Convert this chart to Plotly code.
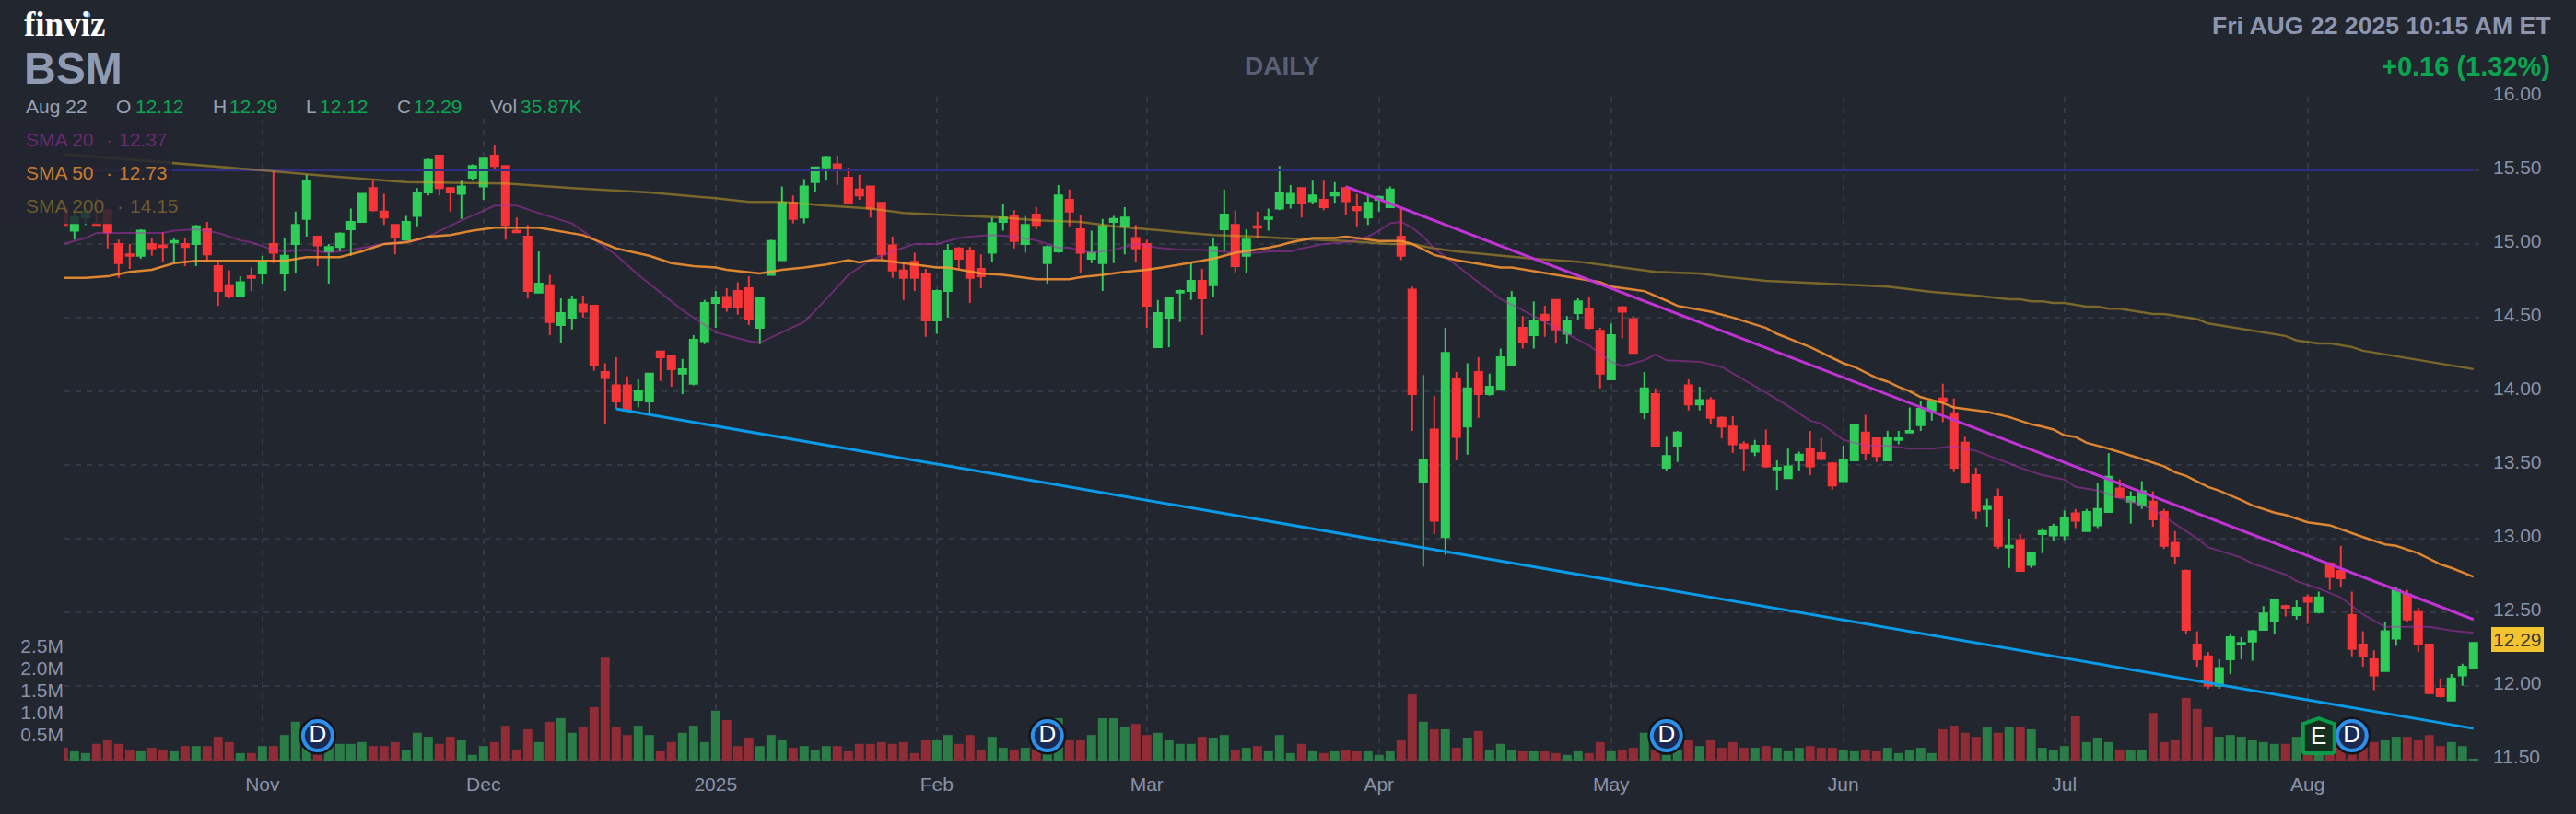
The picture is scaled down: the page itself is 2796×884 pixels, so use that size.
import plotly.graph_objects as go

# daily bars, oldest first
OPEN = [
    15.24, 15.09, 15.18, 15.14, 15.23, 15.00, 14.93, 14.92, 15.00, 14.99,
    15.01, 15.00, 15.00, 15.10, 14.85, 14.72, 14.65, 14.78, 14.80, 15.00,
    14.80, 15.00, 15.17, 15.05, 14.95, 14.98, 15.10, 15.15, 15.38, 15.22,
    15.13, 15.03, 15.19, 15.35, 15.60, 15.38, 15.34, 15.45, 15.39, 15.60,
    15.53, 15.09, 15.05, 14.67, 14.72, 14.45, 14.50, 14.59, 14.58, 14.13,
    14.04, 14.04, 13.94, 13.93, 14.27, 14.24, 14.12, 14.05, 14.34, 14.60,
    14.64, 14.68, 14.70, 14.43, 14.79, 14.89, 15.28, 15.18, 15.42, 15.52,
    15.54, 15.45, 15.37, 15.39, 15.28, 14.99, 14.82, 14.88, 14.80, 14.48,
    14.68, 14.97, 14.95, 14.83, 14.94, 15.15, 15.19, 15.00, 15.20, 14.87,
    14.95, 15.30, 15.10, 14.90, 14.87, 15.15, 15.12, 15.04, 15.00, 14.30,
    14.50, 14.67, 14.68, 14.75, 14.72, 15.10, 15.13, 14.92, 15.12, 15.17,
    15.24, 15.28, 15.38, 15.29, 15.30, 15.33, 15.38, 15.25, 15.18, 15.30,
    15.25, 15.05, 14.69, 13.38, 13.74, 13.01, 14.08, 13.76, 14.13, 13.98,
    14.01, 14.18, 14.43, 14.38, 14.52, 14.62, 14.39, 14.53, 14.56, 14.41,
    14.08, 14.57, 14.49, 13.86, 13.98, 13.48, 13.63, 14.04, 13.91, 13.94,
    13.82, 13.76, 13.64, 13.59, 13.63, 13.47, 13.41, 13.53, 13.61, 13.58,
    13.51, 13.39, 13.53, 13.72, 13.68, 13.53, 13.67, 13.72, 13.77, 13.87,
    13.95, 13.85, 13.65, 13.43, 13.20, 13.28, 12.94, 12.99, 12.82, 13.03,
    13.02, 13.02, 13.17, 13.05, 13.09, 13.18, 13.34, 13.25, 13.23, 13.25,
    13.18, 12.97, 12.78, 12.28, 12.20, 12.00, 12.18, 12.28, 12.30, 12.38,
    12.44, 12.54, 12.48, 12.60, 12.50, 12.83, 12.78, 12.48, 12.28, 12.18,
    12.10, 12.32, 12.62, 12.50, 12.28, 11.98, 11.90, 12.07, 12.12,
]
HIGH = [
    15.24, 15.22, 15.24, 15.31, 15.23, 15.03, 15.00, 15.10, 15.04, 15.08,
    15.04, 15.04, 15.13, 15.15, 14.88, 14.82, 14.78, 14.84, 14.92, 15.50,
    15.04, 15.22, 15.47, 15.05, 15.00, 15.08, 15.24, 15.34, 15.43, 15.34,
    15.13, 15.19, 15.38, 15.58, 15.60, 15.38, 15.43, 15.54, 15.58, 15.67,
    15.53, 15.18, 15.13, 14.95, 14.79, 14.63, 14.65, 14.65, 14.58, 14.19,
    14.23, 14.10, 14.08, 14.12, 14.27, 14.24, 14.22, 14.38, 14.62, 14.68,
    14.70, 14.74, 14.78, 14.63, 15.03, 15.39, 15.33, 15.44, 15.52, 15.60,
    15.60, 15.52, 15.47, 15.39, 15.28, 15.05, 14.87, 14.94, 14.83, 14.69,
    15.00, 14.98, 14.98, 14.93, 15.18, 15.27, 15.23, 15.19, 15.25, 14.99,
    15.40, 15.37, 15.20, 15.09, 15.17, 15.19, 15.25, 15.13, 15.03, 14.62,
    14.64, 14.69, 14.88, 14.83, 15.04, 15.37, 15.23, 15.10, 15.22, 15.24,
    15.53, 15.40, 15.38, 15.43, 15.43, 15.42, 15.39, 15.34, 15.33, 15.33,
    15.39, 15.24, 14.71, 14.11, 13.97, 14.43, 14.13, 14.19, 14.23, 14.12,
    14.29, 14.68, 14.51, 14.61, 14.58, 14.62, 14.51, 14.63, 14.64, 14.43,
    14.46, 14.58, 14.51, 14.13, 14.02, 13.69, 13.73, 14.08, 14.03, 13.96,
    13.83, 13.83, 13.66, 13.67, 13.74, 13.53, 13.61, 13.59, 13.73, 13.68,
    13.52, 13.63, 13.77, 13.84, 13.68, 13.73, 13.73, 13.89, 13.93, 13.93,
    14.05, 13.95, 13.69, 13.48, 13.27, 13.34, 13.13, 13.03, 12.90, 13.07,
    13.10, 13.19, 13.20, 13.20, 13.38, 13.58, 13.40, 13.32, 13.39, 13.32,
    13.20, 13.05, 12.79, 12.37, 12.23, 12.18, 12.35, 12.33, 12.38, 12.54,
    12.58, 12.55, 12.58, 12.62, 12.64, 12.84, 12.95, 12.64, 12.37, 12.24,
    12.43, 12.67, 12.65, 12.53, 12.28, 12.05, 12.08, 12.15, 12.29,
]
LOW = [
    15.13, 15.03, 15.13, 15.13, 14.97, 14.77, 14.83, 14.90, 14.92, 14.88,
    14.88, 14.85, 14.85, 14.88, 14.58, 14.63, 14.64, 14.68, 14.73, 14.87,
    14.68, 14.80, 15.05, 14.85, 14.73, 14.95, 14.92, 15.15, 15.22, 15.13,
    14.93, 15.02, 15.12, 15.33, 15.33, 15.22, 15.17, 15.43, 15.30, 15.50,
    15.03, 15.08, 14.63, 14.67, 14.38, 14.33, 14.42, 14.50, 14.14, 13.78,
    13.88, 13.87, 13.89, 13.85, 14.07, 14.03, 13.98, 14.04, 14.32, 14.43,
    14.54, 14.52, 14.45, 14.32, 14.79, 14.89, 15.14, 15.14, 15.35, 15.43,
    15.40, 15.27, 15.30, 15.18, 14.90, 14.77, 14.62, 14.68, 14.37, 14.39,
    14.50, 14.83, 14.60, 14.70, 14.88, 15.09, 14.97, 14.94, 15.10, 14.73,
    14.94, 15.12, 14.80, 14.87, 14.68, 14.87, 14.93, 14.88, 14.43, 14.30,
    14.30, 14.47, 14.62, 14.38, 14.64, 14.95, 14.80, 14.80, 15.04, 15.09,
    15.23, 15.24, 15.18, 15.27, 15.23, 15.28, 15.20, 15.12, 15.13, 15.22,
    15.25, 14.89, 13.73, 12.81, 13.03, 12.89, 13.53, 13.57, 13.82, 13.97,
    14.01, 14.18, 14.29, 14.29, 14.37, 14.33, 14.32, 14.48, 14.42, 14.02,
    14.08, 14.36, 14.26, 13.81, 13.63, 13.46, 13.52, 13.87, 13.87, 13.78,
    13.68, 13.58, 13.46, 13.56, 13.48, 13.33, 13.41, 13.46, 13.43, 13.53,
    13.33, 13.39, 13.53, 13.53, 13.52, 13.53, 13.64, 13.72, 13.73, 13.80,
    13.79, 13.45, 13.37, 13.13, 13.08, 12.93, 12.80, 12.78, 12.80, 12.90,
    12.98, 12.99, 13.07, 13.05, 13.07, 13.18, 13.27, 13.10, 13.20, 13.08,
    12.93, 12.83, 12.35, 12.13, 11.98, 11.98, 12.08, 12.18, 12.17, 12.38,
    12.35, 12.47, 12.45, 12.42, 12.49, 12.65, 12.67, 12.20, 12.13, 11.97,
    12.10, 12.27, 12.43, 12.23, 11.94, 11.92, 11.90, 12.00, 12.12,
]
CLOSE = [
    15.13, 15.18, 15.22, 15.13, 15.08, 14.87, 14.92, 15.09, 14.97, 14.98,
    15.02, 14.98, 15.12, 14.93, 14.68, 14.65, 14.74, 14.77, 14.88, 14.94,
    14.92, 15.13, 15.43, 14.99, 14.98, 15.07, 15.15, 15.34, 15.23, 15.18,
    15.05, 15.15, 15.35, 15.57, 15.38, 15.35, 15.39, 15.53, 15.58, 15.53,
    15.13, 15.08, 14.68, 14.73, 14.47, 14.53, 14.62, 14.54, 14.18, 14.09,
    13.93, 13.87, 14.00, 14.12, 14.23, 14.15, 14.15, 14.35, 14.60, 14.63,
    14.57, 14.57, 14.49, 14.63, 15.02, 15.28, 15.17, 15.39, 15.52, 15.59,
    15.50, 15.28, 15.33, 15.24, 14.93, 14.82, 14.77, 14.77, 14.48, 14.68,
    14.95, 14.90, 14.77, 14.78, 15.14, 15.18, 15.02, 15.13, 15.13, 14.98,
    15.33, 15.22, 14.94, 14.94, 15.12, 15.17, 15.18, 14.97, 14.58, 14.53,
    14.63, 14.68, 14.75, 14.63, 14.98, 15.20, 14.85, 15.03, 15.11, 15.18,
    15.35, 15.34, 15.28, 15.33, 15.25, 15.35, 15.29, 15.23, 15.28, 15.32,
    15.37, 14.92, 13.98, 13.53, 13.12, 14.26, 13.69, 14.02, 13.98, 14.03,
    14.23, 14.63, 14.33, 14.48, 14.48, 14.42, 14.48, 14.61, 14.43, 14.12,
    14.38, 14.54, 14.26, 14.02, 13.63, 13.56, 13.72, 13.91, 13.94, 13.82,
    13.76, 13.64, 13.61, 13.63, 13.49, 13.48, 13.49, 13.57, 13.49, 13.54,
    13.36, 13.53, 13.77, 13.58, 13.56, 13.68, 13.68, 13.73, 13.88, 13.93,
    13.93, 13.48, 13.38, 13.19, 13.22, 12.95, 12.95, 12.78, 12.90, 13.05,
    13.08, 13.14, 13.12, 13.18, 13.20, 13.42, 13.28, 13.28, 13.32, 13.13,
    12.95, 12.88, 12.38, 12.18, 12.00, 12.12, 12.33, 12.29, 12.37, 12.49,
    12.58, 12.53, 12.53, 12.57, 12.60, 12.74, 12.73, 12.25, 12.20, 12.07,
    12.37, 12.65, 12.45, 12.28, 11.95, 11.93, 12.05, 12.13, 12.29,
]
# volume in millions of shares
VOLUME = [
    0.29, 0.21, 0.17, 0.38, 0.46, 0.38, 0.25, 0.21, 0.29, 0.25,
    0.21, 0.33, 0.33, 0.33, 0.54, 0.42, 0.17, 0.17, 0.33, 0.33,
    0.58, 0.88, 0.29, 0.14, 0.38, 0.38, 0.38, 0.42, 0.33, 0.33,
    0.42, 0.25, 0.63, 0.54, 0.38, 0.54, 0.46, 0.13, 0.33, 0.42,
    0.79, 0.25, 0.71, 0.42, 0.88, 0.96, 0.63, 0.75, 1.21, 2.33,
    0.75, 0.58, 0.79, 0.58, 0.21, 0.42, 0.63, 0.79, 0.42, 1.13,
    0.92, 0.33, 0.50, 0.33, 0.58, 0.46, 0.29, 0.33, 0.25, 0.33,
    0.33, 0.21, 0.38, 0.38, 0.42, 0.38, 0.42, 0.17, 0.46, 0.46,
    0.58, 0.38, 0.58, 0.25, 0.54, 0.29, 0.25, 0.29, 0.25, 0.20,
    0.96, 0.46, 0.46, 0.58, 0.96, 0.96, 0.75, 0.83, 0.58, 0.63,
    0.46, 0.38, 0.38, 0.54, 0.50, 0.58, 0.25, 0.29, 0.33, 0.21,
    0.58, 0.17, 0.38, 0.21, 0.17, 0.21, 0.25, 0.21, 0.21, 0.13,
    0.21, 0.46, 1.50, 0.88, 0.71, 0.71, 0.29, 0.50, 0.67, 0.25,
    0.38, 0.25, 0.21, 0.21, 0.21, 0.17, 0.13, 0.21, 0.17, 0.42,
    0.21, 0.25, 0.29, 0.63, 0.25, 0.13, 0.25, 0.46, 0.33, 0.46,
    0.29, 0.42, 0.29, 0.29, 0.33, 0.29, 0.21, 0.29, 0.33, 0.29,
    0.29, 0.25, 0.21, 0.25, 0.21, 0.29, 0.17, 0.25, 0.29, 0.17,
    0.71, 0.79, 0.63, 0.54, 0.75, 0.63, 0.75, 0.75, 0.71, 0.29,
    0.25, 0.33, 1.00, 0.42, 0.50, 0.42, 0.25, 0.25, 0.25, 1.08,
    0.42, 0.46, 1.42, 1.17, 0.75, 0.54, 0.58, 0.54, 0.46, 0.42,
    0.38, 0.38, 0.54, 0.38, 0.38, 0.38, 0.38, 0.29, 0.38, 0.42,
    0.46, 0.54, 0.54, 0.46, 0.58, 0.33, 0.42, 0.33, 0.036,
]

SMA20_X = [0, 2, 3, 9, 10, 12, 14, 16, 17, 19, 20, 22, 24, 26, 29, 32, 33, 36, 38, 39, 41, 43, 46, 48, 50, 52,
           56, 59, 62, 63, 65, 67, 69, 71, 73, 75, 77, 79, 81, 82, 84, 86, 88, 90, 91, 93, 95, 97, 99, 101, 103,
           106, 108, 109, 111, 112, 114, 116, 118, 119, 120, 121, 122, 123, 124, 126, 128, 130, 132, 135, 138,
           140, 141, 143, 144, 145, 148, 150, 152, 154, 156, 158, 159, 161, 163, 165, 167, 169, 171, 173, 176,
           177, 179, 181, 182, 184, 186, 189, 191, 193, 194, 197, 198, 201, 202, 204, 206, 208, 210, 213, 214,
           216, 218]
SMA20 = [15.00, 15.04, 15.075, 15.075, 15.09, 15.10, 15.075, 15.025, 15.01, 14.96, 14.95, 14.96, 14.94, 14.96,
         15.00, 15.025, 15.05, 15.16, 15.225, 15.26, 15.26, 15.21, 15.14, 15.03, 14.925, 14.79,
         14.55, 14.40, 14.34, 14.33, 14.40, 14.47, 14.625, 14.79, 14.89, 14.95, 15.00, 15.00, 15.04, 15.05, 15.06,
         15.05, 15.025, 14.975, 14.975, 14.94, 14.96, 15.00, 14.975, 14.96, 14.96,
         14.94, 14.94, 14.95, 14.95, 14.97, 15.00, 15.01, 15.05, 15.09, 15.14, 15.15, 15.11, 15.05, 14.97, 14.855,
         14.74, 14.625, 14.55, 14.43, 14.31,
         14.20, 14.17, 14.21, 14.25, 14.21, 14.20, 14.165, 14.08, 13.99, 13.90, 13.80, 13.78, 13.67, 13.63, 13.63,
         13.61, 13.61, 13.625, 13.595, 13.51,
         13.48, 13.43, 13.40, 13.35, 13.325, 13.275, 13.20, 13.10, 13.00, 12.94, 12.87, 12.83, 12.755, 12.71, 12.66,
         12.60, 12.485, 12.40, 12.40, 12.40,
         12.375, 12.36]

SMA50_X = [0, 2, 4, 6, 8, 10, 12, 18, 20, 22, 25, 27, 29, 31, 33, 35, 37, 39, 43, 47, 50, 53, 55, 57, 59, 60, 63,
           65, 67, 69, 71, 72, 73, 74, 76, 79, 80, 83, 85, 88, 91, 92, 94, 96, 98, 101, 104, 106, 109, 110, 111,
           113, 115, 116, 117, 119, 121, 122, 124, 126, 130, 131, 135, 139, 140, 143, 145, 146, 149, 151, 154,
           155, 157, 158, 161, 162, 164, 165, 166, 167, 168, 170, 171, 173, 174, 176, 178, 179, 180, 181, 182,
           183, 185, 188, 190, 191, 192, 194, 195, 197, 198, 200, 201, 203, 205, 208, 210, 211, 213, 215, 216,
           218]
SMA50 = [14.77, 14.77, 14.78, 14.81, 14.825, 14.87, 14.885, 14.885, 14.885, 14.91, 14.91, 14.95, 15.00, 15.01,
         15.05, 15.06, 15.09, 15.11, 15.11, 15.06, 14.97, 14.92, 14.87, 14.85, 14.84, 14.825, 14.80,
         14.825, 14.84, 14.86, 14.89, 14.875, 14.89, 14.89, 14.87, 14.84, 14.84, 14.80, 14.79, 14.76, 14.76, 14.775,
         14.79, 14.81, 14.825, 14.86, 14.90, 14.94, 14.975, 14.99, 15.01,
         15.04, 15.04, 15.05, 15.04, 15.02, 15.02, 15.00, 14.925, 14.89, 14.84, 14.84, 14.79, 14.74, 14.71, 14.68,
         14.615, 14.58, 14.54, 14.50, 14.43,
         14.39, 14.33, 14.30, 14.19, 14.165, 14.09, 14.065, 14.03, 14.00, 13.96, 13.92, 13.89, 13.87, 13.86, 13.825,
         13.775, 13.76, 13.74, 13.70, 13.69,
         13.65, 13.61, 13.54, 13.49, 13.45, 13.425, 13.35, 13.325, 13.26, 13.225, 13.175, 13.16, 13.11, 13.09, 13.01,
         12.96, 12.95, 12.90, 12.825, 12.80,
         12.74]

SMA200_X = [0, 10, 18, 24, 31, 40, 42, 46, 53, 59, 62, 65, 69, 73, 76, 79, 82, 85, 88, 92, 95, 98, 101, 104, 108,
            110, 116, 120, 122, 124, 126, 129, 133, 137, 140, 144, 148, 150, 154, 157, 161, 165, 169, 173, 176,
            177, 178, 179, 180, 181, 183, 184, 185, 186, 189, 190, 193, 194, 201, 202, 204, 205, 207, 208, 218]
SMA200 = [15.61, 15.55, 15.50, 15.46, 15.42, 15.41, 15.40, 15.38, 15.35, 15.31, 15.285, 15.285, 15.26, 15.24, 15.21,
          15.20, 15.19, 15.18, 15.16, 15.15, 15.12, 15.10, 15.08, 15.06, 15.05,
          15.04, 15.02, 15.00, 15.00, 14.97, 14.95, 14.93, 14.90, 14.88, 14.85, 14.81, 14.80, 14.78, 14.75, 14.74,
          14.725, 14.71, 14.675, 14.65, 14.625,
          14.625, 14.61, 14.61, 14.60, 14.60, 14.575, 14.575, 14.56, 14.56, 14.525, 14.525, 14.49, 14.46, 14.375,
          14.345, 14.325, 14.325, 14.30, 14.275, 14.15]

# drawn trendlines and the horizontal level
UPPER_X = [116, 218]
UPPER_Y = [15.39, 12.45]
LOWER_X = [50, 218]
LOWER_Y = [13.88, 11.71]
LEVEL_X = [0, 218]
LEVEL_Y = [15.50, 15.50]

MONTH_POS = [18, 38, 59, 79, 98, 119, 140, 161, 181, 203]
MONTH_LABELS = ["Nov", "Dec", "2025", "Feb", "Mar", "Apr", "May", "Jun", "Jul", "Aug"]
PRICE_TICKS = [11.5, 12, 12.5, 13, 13.5, 14, 14.5, 15, 15.5, 16]
VOL_TICKS = [0.5, 1.0, 1.5, 2.0, 2.5]
VOL_LABELS = ["0.5M", "1.0M", "1.5M", "2.0M", "2.5M"]

DIVIDEND_X = [23, 89, 145, 207]
EARNINGS_X = [204]
BADGE_Y = 11.66

BG = "#22262f"
GRID = "#333844"
TICK = "#8a92a8"
FONT = "Liberation Sans"
GREEN = "#2fcc5a"
RED = "#f63538"
UP_TXT = "#0ba551"

# plot box in page pixels
L, R, T, B = 70, 2691, 104.7, 826
W, H = R - L, B - T


def px(x):
    return (x - L) / W


def py(y):
    return 1 - (y - T) / H


fig = go.Figure()

vol_colors = ["#2b7d47" if c >= o else "#8f2c35" for o, c in zip(OPEN, CLOSE)]
xs = list(range(len(OPEN)))

fig.add_trace(go.Bar(x=xs, y=VOLUME, marker_color=vol_colors, marker_line_width=0, yaxis="y", hoverinfo="skip"))
fig.add_trace(go.Candlestick(
    x=xs, open=OPEN, high=HIGH, low=LOW, close=CLOSE, yaxis="y2", whiskerwidth=0,
    increasing=dict(fillcolor=GREEN, line=dict(color=GREEN, width=2)),
    decreasing=dict(fillcolor=RED, line=dict(color=RED, width=2)),
))
fig.add_trace(go.Scatter(x=LEVEL_X, y=LEVEL_Y, mode="lines", yaxis="y2", line=dict(color="#2e2e85", width=2)))
fig.add_trace(go.Scatter(x=SMA200_X, y=SMA200, mode="lines", yaxis="y2", line=dict(color="rgba(210,170,40,0.5)", width=2.5)))
fig.add_trace(go.Scatter(x=SMA20_X, y=SMA20, mode="lines", yaxis="y2", line=dict(color="rgba(180,50,180,0.5)", width=2)))
fig.add_trace(go.Scatter(x=SMA50_X, y=SMA50, mode="lines", yaxis="y2", line=dict(color="rgba(255,150,50,0.85)", width=2.5)))
fig.add_trace(go.Scatter(x=UPPER_X, y=UPPER_Y, mode="lines", yaxis="y2", line=dict(color="#c233d6", width=3)))
fig.add_trace(go.Scatter(x=LOWER_X, y=LOWER_Y, mode="lines", yaxis="y2", line=dict(color="#0a9be8", width=3)))

# dividend markers
fig.add_trace(go.Scatter(
    x=DIVIDEND_X, y=[BADGE_Y] * len(DIVIDEND_X), mode="markers", yaxis="y2",
    marker=dict(size=41, color="#12141a"),
))
fig.add_trace(go.Scatter(
    x=DIVIDEND_X, y=[BADGE_Y] * len(DIVIDEND_X), mode="markers+text", yaxis="y2",
    marker=dict(size=32, color="#1b2a52", line=dict(color="#2c8fe8", width=4)),
    text=["D"] * len(DIVIDEND_X), textposition="middle center",
    textfont=dict(family=FONT, size=26, color="#ffffff"),
))

annotations = []


def label(x, y, text, color, size, bold=False, anchor="left", family=FONT):
    if bold:
        text = f"<b>{text}</b>"
    annotations.append(dict(
        x=px(x), y=py(y), xref="paper", yref="paper", text=text, showarrow=False,
        xanchor=anchor, yanchor="middle", font=dict(family=family, size=size, color=color),
    ))


label(24, 26, "finviz", "#ffffff", 37, bold=True, family="Liberation Serif")
label(24, 74, "BSM", "#8f9bb3", 48, bold=True)
label(1392, 71, "DAILY", "#596075", 28, bold=True, anchor="center")
label(2771, 28, "Fri AUG 22 2025 10:15 AM ET", "#8d95ae", 26.6, bold=True, anchor="right")
label(2770, 72, "+0.16 (1.32%)", UP_TXT, 29, bold=True, anchor="right")

label(26, 115.5, "Aug 22", "#9aa1b2", 21)
for x_name, name, x_val, val in [
    (124, "O", 145, "12.12"), (228.5, "H", 247, "12.29"), (330, "L", 345, "12.12"),
    (428.5, "C", 447, "12.29"), (530, "Vol", 562.5, "35.87K"),
]:
    label(x_name, 115.5, name, "#9aa1b2", 21)
    label(x_val, 115.5, val, UP_TXT, 21)

for y, name, dot_x, val_x, val, color in [
    (151, "SMA 20", 113, 127, "12.37", "#6a2a6e"),
    (187, "SMA 50", 113, 127, "12.73", "#c97a32"),
    (223, "SMA 200", 125, 139, "14.15", "#6b5a2e"),
]:
    label(26, y, name, color, 21)
    label(dot_x, y, "·", color, 21)
    label(val_x, y, val, color, 21)

# last price tag
annotations.append(dict(
    x=px(2732), y=12.29, xref="paper", yref="y2", yshift=4, text="12.29", showarrow=False,
    xanchor="center", yanchor="middle", bgcolor="#f4c430", borderpad=1, borderwidth=1, bordercolor="#f4c430",
    font=dict(family=FONT, size=21, color="#3a3a3a"),
))
annotations.append(dict(
    x=EARNINGS_X[0], y=BADGE_Y, xref="x", yref="y2", text="E", showarrow=False,
    font=dict(family=FONT, size=26, color="#ffffff"),
))

shapes = [
    # header row and legend backdrops
    dict(type="rect", xref="paper", yref="paper", x0=px(0), x1=px(638), y0=py(128), y1=py(100),
         fillcolor=BG, line_width=0, layer="above"),
    dict(type="rect", xref="paper", yref="paper", x0=px(0), x1=px(187), y0=py(243), y1=py(128),
         fillcolor=BG, opacity=0.85, line_width=0, layer="above"),
    # blue dot of the logo
    dict(type="circle", xref="paper", yref="paper", x0=px(91), x1=px(98.2), y0=py(19.3), y1=py(12.1),
         fillcolor="#4aa3f0", line_width=0, layer="above"),
    # earnings badge
    dict(type="path", xref="x", yref="y2", xsizemode="pixel", ysizemode="pixel",
         xanchor=EARNINGS_X[0], yanchor=BADGE_Y,
         path="M -17,13 L 0,19 L 17,13 L 17,-16 Q 17,-19 14,-19 L -14,-19 Q -17,-19 -17,-16 Z",
         fillcolor="#15301f", line=dict(color="#0a9a4a", width=4), layer="above"),
]

fig.update_layout(
    width=2796, height=884,
    margin=dict(l=L, r=2796 - R, t=T, b=884 - B),
    paper_bgcolor=BG, plot_bgcolor=BG,
    showlegend=False, bargap=0.17, boxgap=0.33, boxgroupgap=0,
    annotations=annotations, shapes=shapes,
    xaxis=dict(
        range=[0.1, 218.52], rangeslider_visible=False, tickvals=MONTH_POS, ticktext=MONTH_LABELS,
        showgrid=True, gridcolor=GRID, gridwidth=2, griddash="6px,6px", zeroline=False, showline=False,
        ticks="", tickfont=dict(family=FONT, size=21, color=TICK), ticklabelstandoff=11,
    ),
    yaxis=dict(
        range=[0, H / 48], side="left", tickvals=VOL_TICKS, ticktext=VOL_LABELS, showgrid=False,
        zeroline=False, showline=False, ticks="", ticklabelshift=-4,
        tickfont=dict(family=FONT, size=21, color=TICK),
    ),
    yaxis2=dict(
        range=[16 - H / 160, 16], side="right", overlaying="y", tickvals=PRICE_TICKS, tickformat=".2f",
        showgrid=True, gridcolor=GRID, gridwidth=2, griddash="6px,6px", zeroline=False, showline=False,
        ticks="", ticklabelshift=-3, ticklabelstandoff=14,
        tickfont=dict(family=FONT, size=21, color=TICK),
    ),
)

# the page must start at 0,0 so the chart fills the 2796x884 window
fig.write_html("out.html", config={"displayModeBar": False}, post_script="document.body.style.margin = '0';")
